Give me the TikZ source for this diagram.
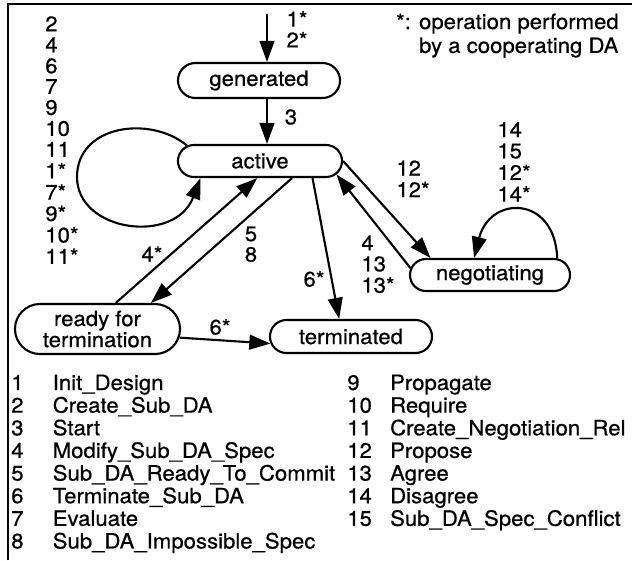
\documentclass[tikz,border=0pt]{standalone}
\usepackage{fontspec}
\setmainfont{TeX Gyre Heros}[FakeStretch=1.05,FakeBold=0.6]
\usetikzlibrary{arrows.meta,shapes.misc}

\newcommand{\txt}{\fontsize{15}{16}\selectfont}
\newcommand{\legtxt}{\fontsize{15}{16.1}\selectfont}
\newcommand{\stk}[2][14.3]{{\fontsize{15}{#1}\selectfont\begin{tabular}{@{}l@{}}#2\end{tabular}}}

\begin{document}
\begin{tikzpicture}[x=0.025cm,y=-0.025cm,font=\txt,
  state/.style={rounded rectangle, draw, line width=1.5pt, inner sep=0pt},
  trans/.style={line width=1.5pt, -{Triangle[length=15pt,width=10.5pt]}},
  num/.style={inner sep=0pt}]
\useasboundingbox (0,0) rectangle (635,560);
\draw[line width=1.6pt] (8,560) -- (8,4) -- (632,4);

% states
\node[state, minimum width=4.05cm, minimum height=0.875cm] (gen) at (259,80.5) {generated};
\node[state, minimum width=4.1cm, minimum height=0.8cm] (act) at (260,161) {active};
\node[state, minimum width=4cm, minimum height=0.8cm] (neg) at (490,275) {negotiating};
\node[state, minimum width=4.05cm, minimum height=0.825cm] (term) at (351,336.5) {terminated};
\node[state, minimum width=4.125cm, minimum height=1.25cm, align=center] (ready)
  at (97.5,329) {ready for\\[-1pt]termination};

% transitions
\coordinate (init) at (267,14);
\draw[trans] (init) -- (init |- gen.north);
\draw[trans] (init |- gen.south) -- (init |- act.north);
\draw[trans] (act.168) .. controls (150,115) and (77,125) .. (77,177)
  .. controls (77,232) and (175,245) .. (act.196);
\draw[trans] (ready.55) -- (act.261);
\draw[trans] (act.332) -- (ready.26);
\draw[trans] (act.342) -- (term.124);
\draw[trans] (ready.354) -- (term.185);
\draw[trans] (act.east) -- (neg.164);
\draw[trans] (neg.175) -- (act.350);
\draw[trans] (neg.14) .. controls (555,195) and (490,195) .. (neg.133);

% labels
\node[num] (lstart) at (297,32) {\stk[12.8]{1*\\2*}};
\node[num] (lstart2) at (291,117) {3};
\node[num, anchor=north west] (lloop) at (45,16) {\stk{2\\4\\6\\7\\9\\10\\11\\1*\\7*\\9*\\10*\\11*}};
\node[num] (lready) at (152,254) {4*};
\node[num] (lcommit) at (251,247) {\stk[13.5]{5\\8}};
\node[num] (lterm) at (314,279) {6*};
\node[num] (lterm2) at (220,327) {6*};
\node[num] (lprop) at (413,182) {\stk[14.9]{12\\12*}};
\node[num] (lagree) at (378,267) {\stk[14.2]{4\\13\\13*}};
\node[num] (lneg) at (514,165) {\stk[14.9]{14\\15\\12*\\14*}};
\node[inner sep=0pt, anchor=base east] (note) at (619,29) {\fontsize{15}{17}\selectfont
  \begin{tabular}[t]{@{}l@{ }l@{}}
  *: & operation performed\\
     & by a cooperating DA
  \end{tabular}};

% legend
\node[inner sep=0pt, anchor=base west] (legA) at (11,390) {\legtxt
  \begin{tabular}[t]{@{}p{29.5pt}@{}l@{}}
  1 & Init\_Design\\
  2 & Create\_Sub\_DA\\
  3 & Start\\
  4 & Modify\_Sub\_DA\_Spec\\
  5 & Sub\_DA\_Ready\_To\_Commit\\
  6 & Terminate\_Sub\_DA\\
  7 & Evaluate\\
  8 & Sub\_DA\_Impossible\_Spec
  \end{tabular}};
\node[inner sep=0pt, anchor=base west] (legB) at (347,390) {\legtxt
  \begin{tabular}[t]{@{}p{30.5pt}@{}l@{}}
  9 & Propagate\\
  10 & Require\\
  11 & Create\_Negotiation\_Rel\\
  12 & Propose\\
  13 & Agree\\
  14 & Disagree\\
  15 & Sub\_DA\_Spec\_Conflict
  \end{tabular}};
\end{tikzpicture}
\end{document}
